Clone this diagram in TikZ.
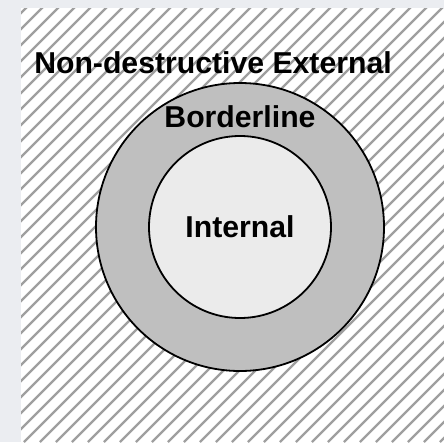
\documentclass[tikz,border=0pt]{standalone}
\usepackage{fontspec}
\setmainfont{Liberation Sans}
\usepackage{tikz}
\definecolor{pagebg}{RGB}{235,237,241}

\begin{document}
\begin{tikzpicture}[x=1pt, y=-1pt, font=\bfseries\fontsize{30.2}{36}\selectfont]
  \fill[pagebg] (0,0) rectangle (444,442);
  \useasboundingbox (0,0) rectangle (444,442);
  % external zone, hatched
  \begin{scope}
    \clip (21,8) rectangle (444,442);
    \fill[white] (21,8) rectangle (444,442);
    \foreach \k in {-42,...,15}
      \draw[gray!75, line width=2.4pt] (232+\k*16,442) -- ++(440,-440);
  \end{scope}
  \draw[line width=1.8pt, fill=black!25] (240,227) circle (144pt);
  \draw[line width=1.8pt, fill=black!8] (240,227) circle (91pt);
  \node[anchor=base, inner sep=0pt] (external) at (213,73) {Non-destructive External};
  \node[anchor=base, inner sep=0pt] (border) at (240,127) {Borderline};
  \node[anchor=base, inner sep=0pt] (internal) at (240,237) {Internal};
\end{tikzpicture}
\end{document}
